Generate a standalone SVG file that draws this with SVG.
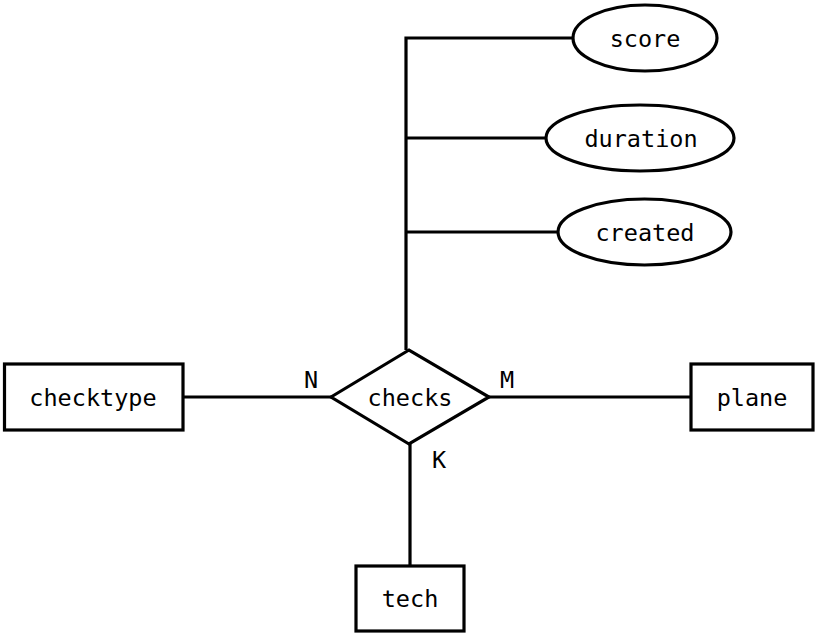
<svg xmlns="http://www.w3.org/2000/svg" width="815" height="638" viewBox="0 0 815 638">
<style>
.s{fill:#fff;stroke:#000;stroke-width:3.2}
.l{fill:none;stroke:#000;stroke-width:3.2}
text{font-family:"DejaVu Sans Mono",monospace;font-size:23.5px;fill:#000;text-anchor:middle}
</style>
<rect width="815" height="638" fill="#fff"/>
<g id="connectors">
<path class="l" d="M573,38 H406 V350"/>
<path class="l" d="M406,138 H546"/>
<path class="l" d="M406,232 H558"/>
<path class="l" d="M183,397 H331"/>
<path class="l" d="M489,397 H691"/>
<path class="l" d="M410,444 V566"/>
<text x="311" y="388">N</text>
<text x="507" y="388">M</text>
<text x="439" y="468">K</text>
</g>
<g id="score"><ellipse class="s" cx="645" cy="38" rx="72" ry="33"/><text x="645" y="47">score</text></g>
<g id="duration"><ellipse class="s" cx="640" cy="138" rx="94" ry="33"/><text x="641" y="146.5">duration</text></g>
<g id="created"><ellipse class="s" cx="644.5" cy="232" rx="86.5" ry="33"/><text x="645" y="240.5">created</text></g>
<g id="checks"><polygon class="s" points="331,397 409,350 489,397 409,444"/><text x="410" y="406">checks</text></g>
<g id="checktype"><rect class="s" x="4.5" y="364" width="178.5" height="66"/><text x="93" y="406">checktype</text></g>
<g id="plane"><rect class="s" x="691" y="364" width="122" height="66"/><text x="752" y="406">plane</text></g>
<g id="tech"><rect class="s" x="356" y="566" width="108" height="65"/><text x="410" y="607">tech</text></g>
</svg>
